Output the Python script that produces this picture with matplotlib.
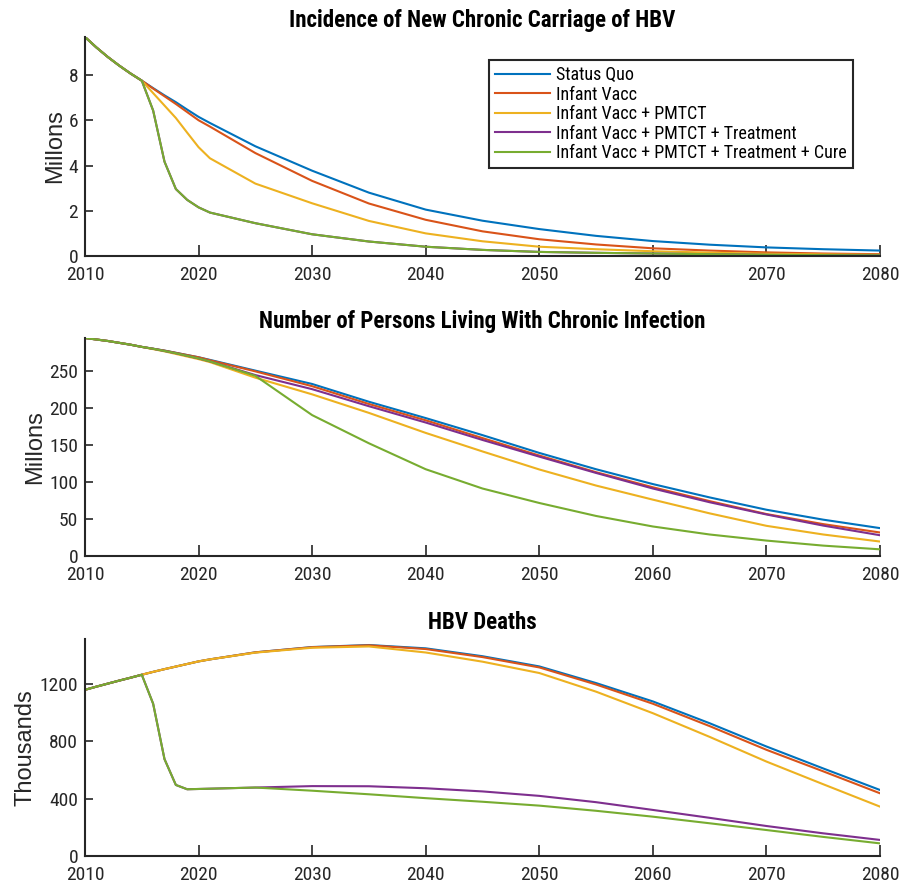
import matplotlib
matplotlib.use("Agg")
import matplotlib.pyplot as plt
from matplotlib import font_manager

# condensed sans for horizontal text, plain sans for the rotated y labels
installed = {f.name for f in font_manager.fontManager.ttflist}
narrow_pref = ["Liberation Sans Narrow", "Arial Narrow", "Nimbus Sans Narrow",
               "Roboto Condensed", "Archivo Narrow", "PT Sans Narrow", "Pragati Narrow",
               "Fira Sans Condensed", "IBM Plex Sans Condensed", "Asap Condensed"]
narrow = next((n for n in narrow_pref if n in installed), "DejaVu Sans")
plt.rcParams["font.family"] = [narrow, "DejaVu Sans"]
plain = ["Liberation Sans", "DejaVu Sans"]

years = [2010, 2011, 2012, 2013, 2014, 2015, 2016, 2017, 2018, 2019, 2020, 2021,
         2025, 2030, 2035, 2040, 2045, 2050, 2055, 2060, 2065, 2070, 2075, 2080]

labels = ["Status Quo", "Infant Vacc", "Infant Vacc + PMTCT",
          "Infant Vacc + PMTCT + Treatment", "Infant Vacc + PMTCT + Treatment + Cure"]
colors = ["#0072BD", "#D95319", "#EDB120", "#7E2F8E", "#77AC30"]

# incidence of new chronic carriage (millions)
inc_sq = [9.68, 9.22, 8.8, 8.42, 8.07, 7.75, 7.42, 7.1, 6.8, 6.47, 6.15, 5.88,
          4.85, 3.77, 2.8, 2.05, 1.56, 1.19, 0.89, 0.66, 0.5, 0.38, 0.3, 0.24]
inc_iv = [9.68, 9.22, 8.8, 8.42, 8.07, 7.75, 7.4, 7.06, 6.72, 6.36, 6.0, 5.72,
          4.55, 3.32, 2.32, 1.6, 1.09, 0.74, 0.51, 0.34, 0.24, 0.16, 0.11, 0.08]
inc_pm = [9.68, 9.22, 8.8, 8.42, 8.07, 7.75, 7.2, 6.65, 6.1, 5.45, 4.81, 4.32,
          3.2, 2.33, 1.55, 1.0, 0.65, 0.41, 0.3, 0.21, 0.15, 0.1, 0.07, 0.05]
inc_tr = [9.68, 9.22, 8.8, 8.42, 8.07, 7.75, 6.43, 4.17, 2.96, 2.48, 2.15, 1.92,
          1.45, 0.96, 0.64, 0.41, 0.27, 0.18, 0.14, 0.11, 0.08, 0.05, 0.04, 0.03]
inc_cu = [9.68, 9.22, 8.8, 8.42, 8.07, 7.75, 6.43, 4.17, 2.96, 2.48, 2.15, 1.92,
          1.45, 0.96, 0.64, 0.41, 0.27, 0.18, 0.14, 0.11, 0.08, 0.05, 0.04, 0.03]

# persons living with chronic infection (millions)
liv_sq = [294, 292, 290, 287.5, 285, 282, 279.5, 277, 274, 271, 268, 264.5,
          250, 232, 208, 186, 163, 139, 117, 97, 79, 62.4, 49, 37.6]
liv_iv = [294, 292, 290, 287.5, 285, 282, 279.5, 277, 274, 271, 268, 264,
          249, 229, 205, 183, 159, 135.5, 113, 92.7, 74, 56.6, 43, 31.7]
liv_pm = [294, 292, 290, 287.5, 285, 282, 279, 276, 272.5, 269, 265.5, 261.5,
          240.5, 218, 193, 166, 141, 116.7, 95, 76, 57.5, 40.7, 29, 19.5]
liv_tr = [294, 292, 290, 287.5, 285, 282, 279.5, 276.5, 273.5, 270, 266.5, 262.5,
          244, 225, 202, 180, 156.5, 134, 112, 91, 72.5, 56, 41, 28]
liv_cu = [294, 292, 290, 287.5, 285, 282, 279.5, 276.5, 273.5, 270, 266.5, 262.5,
          243, 190, 152, 117, 91, 71.5, 54, 39.8, 29, 20.8, 14, 9]

# HBV deaths (thousands)
dth_sq = [1158, 1180, 1201, 1222, 1242, 1263, 1283, 1302, 1320, 1338, 1356, 1370,
          1419, 1456, 1470, 1447, 1392, 1321, 1205, 1077, 925, 763, 610, 460]
dth_iv = [1158, 1180, 1201, 1222, 1242, 1263, 1283, 1302, 1320, 1338, 1356, 1370,
          1419, 1455, 1468, 1442, 1386, 1314, 1195, 1061, 905, 740, 590, 437]
dth_pm = [1158, 1180, 1201, 1222, 1242, 1263, 1283, 1302, 1320, 1338, 1356, 1370,
          1417, 1451, 1460, 1418, 1354, 1275, 1145, 995, 830, 658, 500, 344]
dth_tr = [1158, 1180, 1201, 1222, 1242, 1263, 1061, 675, 495, 465, 467, 469,
          477, 487, 486, 472, 450, 419, 375, 321, 266, 209, 158, 112]
dth_cu = [1158, 1180, 1201, 1222, 1242, 1263, 1061, 675, 495, 465, 467, 469,
          477, 455, 430, 403, 378, 351, 315, 274, 228, 181, 133, 88]

panels = [
    ("Incidence of New Chronic Carriage of HBV", "Millons",
     [inc_sq, inc_iv, inc_pm, inc_tr, inc_cu], 9.68, [0, 2, 4, 6, 8]),
    ("Number of Persons Living With Chronic Infection", "Millons",
     [liv_sq, liv_iv, liv_pm, liv_tr, liv_cu], 294, [0, 50, 100, 150, 200, 250]),
    ("HBV Deaths", "Thousands",
     [dth_sq, dth_iv, dth_pm, dth_tr, dth_cu], 1512, [0, 400, 800, 1200]),
]

W, H = 912, 885
fig = plt.figure(figsize=(W / 100, H / 100), dpi=100)

# axes boxes in pixels: top, bottom
boxes = [(37, 256), (338, 556), (639, 856)]
left, right = 85, 880
axis_col = "#262626"

for (title, ylab, series, ytop, yticks), (top, bot) in zip(panels, boxes):
    ax = fig.add_axes([left / W, 1 - bot / H, (right - left) / W, (bot - top) / H])
    for s, c, lab in zip(series, colors, labels):
        ax.plot(years, s, color=c, lw=1.5, label=lab, solid_joinstyle="round")
    ax.set_xlim(2010, 2080)
    ax.set_ylim(0, ytop)
    ax.set_xticks(range(2010, 2081, 10))
    ax.set_yticks(yticks)
    for side in ("top", "right"):
        ax.spines[side].set_visible(False)
    for side in ("left", "bottom"):
        ax.spines[side].set_color(axis_col)
        ax.spines[side].set_linewidth(1.5)
    ax.tick_params(axis="x", direction="in", length=8, width=1.2, colors=axis_col,
                   labelsize=14, pad=7)
    ax.tick_params(axis="y", direction="in", length=6, width=1.2, colors=axis_col,
                   labelsize=14, pad=5)
    ax.set_title(title, fontsize=16.5, fontweight="bold", color="black", pad=7)
    ax.set_ylabel(ylab, fontsize=17, color=axis_col, labelpad=2, family=plain)
    if title.startswith("Incidence"):
        leg = ax.legend(loc="upper left", bbox_to_anchor=(489 / W, 1 - 60 / H),
                        bbox_transform=fig.transFigure, fontsize=13, frameon=True,
                        fancybox=False, framealpha=1, edgecolor="#262626",
                        handlelength=3.05, handletextpad=0.3, labelspacing=0.08,
                        borderpad=0.35, borderaxespad=0)
        leg.get_frame().set_linewidth(1.5)

fig.savefig("out.png", dpi=100)
